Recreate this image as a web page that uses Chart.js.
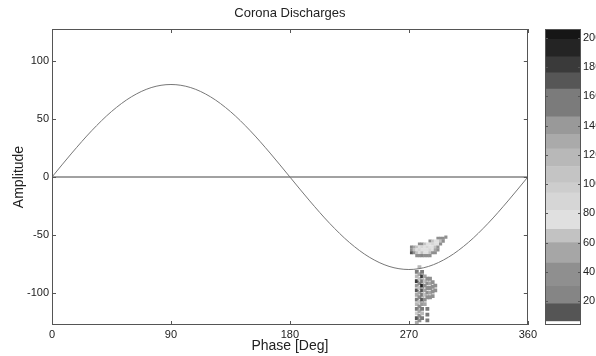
<!DOCTYPE html>
<html>
<head>
<meta charset="utf-8">
<title>Corona Discharges</title>
<script src="https://cdn.jsdelivr.net/npm/chart.js@4.4.0/dist/chart.umd.min.js"></script>
<style>
  html, body { margin: 0; padding: 0; background: #fff; overflow: hidden; }
  #wrap { position: relative; width: 596px; height: 356px; overflow: hidden; }
  #main { position: absolute; left: 0; top: 0; }
  #cbar { position: absolute; left: 540px; top: 0; }
</style>
</head>
<body>
<div id="wrap">
  <canvas id="main" width="540" height="356"></canvas>
  <canvas id="cbar" width="80" height="356"></canvas>
</div>
<script>
// axis ticks
let phaseTicks = [0, 90, 180, 270, 360];
let ampTicks = [-100, -50, 0, 50, 100];
let countTicks = [20, 40, 60, 80, 100, 120, 140, 160, 180, 200];

// reference voltage curve
let sinePhase = [0, 15, 30, 45, 60, 75, 90, 105, 120, 135, 150, 165, 180, 195, 210, 225, 240, 255, 270, 285, 300, 315, 330, 345, 360];
let sineAmp = [0, 20.7, 40, 56.6, 69.3, 77.3, 80, 77.3, 69.3, 56.6, 40, 20.7, 0, -20.7, -40, -56.6, -69.3, -77.3, -80, -77.3, -69.3, -56.6, -40, -20.7, 0];

// colour bar bands (count edges, bottom to top) and their grey levels
let bandEdges = [0, 6, 18, 30, 46, 60, 69, 82, 94, 101, 112, 124, 134, 146, 165, 176, 187, 199, 210];
let bandColors = ['#ffffff', '#555555', '#858585', '#8f8f8f', '#a6a6a6', '#c2c2c2', '#e0e0e0', '#d6d6d6',
  '#cdcdcd', '#c4c4c4', '#b8b8b8', '#aaaaaa', '#999999', '#7b7b7b', '#565656', '#3a3a3a', '#242424', '#161616'];

// discharge cells: [phase, amplitude, count]
let blobPoints = [
  [292, -53, 40], [294, -53, 30], [296, -53, 40], [298, -52, 30],
  [286, -55.5, 40], [288, -55.5, 60], [290, -55.5, 80], [292, -55.5, 80], [294, -55.5, 60], [296, -55.5, 40],
  [278, -58, 30], [280, -58, 40], [282, -58, 60], [284, -58, 70], [286, -58, 80], [288, -58, 90], [290, -58, 80], [292, -58, 70], [294, -58, 40],
  [272, -60.5, 20], [274, -60.5, 50], [276, -60.5, 60], [278, -60.5, 80], [280, -60.5, 90], [282, -60.5, 80], [284, -60.5, 90], [286, -60.5, 80], [288, -60.5, 70], [290, -60.5, 60], [292, -60.5, 40],
  [272, -63, 40], [274, -63, 60], [276, -63, 80], [278, -63, 90], [280, -63, 75], [282, -63, 70], [284, -63, 80], [286, -63, 90], [288, -63, 70], [290, -63, 50], [292, -63, 30],
  [272, -65.5, 15], [274, -65.5, 40], [276, -65.5, 60], [278, -65.5, 70], [280, -65.5, 60], [282, -65.5, 80], [284, -65.5, 70], [286, -65.5, 60], [288, -65.5, 40], [290, -65.5, 30],
  [276, -68, 30], [278, -68, 40], [280, -68, 20], [282, -68, 40], [284, -68, 30], [286, -68, 40]
];
let columnPoints = [
  [278, -78, 120],
  [276, -82, 160], [276, -86, 120], [276, -90, 180], [276, -94, 140], [276, -98, 170], [276, -102, 130], [276, -106, 160], [276, -110, 120], [276, -114, 150], [276, -118, 100], [276, -122, 170], [276, -126, 130],
  [278, -84, 50], [278, -88, 60], [278, -92, 40], [278, -96, 60], [278, -100, 50], [278, -104, 40], [278, -108, 60], [278, -112, 40], [278, -116, 50], [278, -120, 30], [278, -124, 40],
  [280, -82, 150], [280, -86, 180], [280, -90, 160], [280, -94, 190], [280, -98, 170], [280, -102, 150], [280, -106, 170], [280, -110, 140], [280, -114, 160], [280, -118, 120], [280, -122, 150],
  [282, -86, 50], [282, -90, 60], [282, -94, 40], [282, -98, 50], [282, -102, 60], [282, -106, 40], [282, -110, 50],
  [284, -88, 30], [284, -92, 40], [284, -96, 30], [284, -100, 40], [284, -104, 30], [284, -114, 160], [284, -119, 150], [284, -124, 160],
  [286, -88, 40], [286, -92, 50], [286, -96, 40], [286, -100, 50], [286, -104, 40],
  [288, -91, 40], [288, -95, 30], [288, -99, 40], [288, -103, 30],
  [290, -94, 40], [290, -98, 30]
];

function colorFor(count) {
  for (let i = 0; i < bandColors.length; i++) {
    if (count < bandEdges[i + 1]) return bandColors[i];
  }
  return bandColors[bandColors.length - 1];
}

Chart.defaults.font.family = '"Liberation Sans", Arial, sans-serif';
Chart.defaults.color = '#222';

// MATLAB style box with inward tick marks
const boxPlugin = {
  id: 'box',
  afterDatasetsDraw(chart, args, opts) {
    const ctx = chart.ctx;
    const a = chart.chartArea;
    const len = opts.tickLength || 4;
    ctx.save();
    ctx.strokeStyle = opts.color || '#555';
    ctx.lineWidth = 1;
    ctx.strokeRect(Math.round(a.left) + 0.5, Math.round(a.top) + 0.5, Math.round(a.width) - 1, Math.round(a.height) - 1);
    ctx.beginPath();
    const xs = chart.scales.x;
    if (xs && xs.options.display) {
      xs.ticks.forEach(t => {
        const px = Math.round(xs.getPixelForValue(t.value)) + 0.5;
        ctx.moveTo(px, a.bottom); ctx.lineTo(px, a.bottom - len);
        ctx.moveTo(px, a.top); ctx.lineTo(px, a.top + len);
      });
    }
    const ys = chart.scales.y;
    ys.ticks.forEach(t => {
      const py = Math.round(ys.getPixelForValue(t.value)) + 0.5;
      ctx.moveTo(a.left, py); ctx.lineTo(a.left + len, py);
      ctx.moveTo(a.right, py); ctx.lineTo(a.right - len, py);
    });
    ctx.stroke();
    ctx.restore();
  }
};

let blobData = blobPoints.map(p => ({ x: p[0], y: p[1], c: p[2] }));
let columnData = columnPoints.map(p => ({ x: p[0], y: p[1], c: p[2] }));

let mainChart = new Chart(document.getElementById('main').getContext('2d'), {
  type: 'scatter',
  data: {
    datasets: [{
      label: 'Discharges (upper)',
      data: blobData,
      pointStyle: 'rect',
      pointRadius: 2.2,
      pointBorderWidth: 0,
      pointBackgroundColor: blobData.map(d => colorFor(d.c)),
      order: 2
    }, {
      label: 'Discharges (lower)',
      data: columnData,
      pointStyle: 'rect',
      pointRadius: 2.7,
      pointBorderWidth: 0,
      pointBackgroundColor: columnData.map(d => colorFor(d.c)),
      order: 2
    }, {
      label: 'Voltage',
      type: 'line',
      data: sinePhase.map((p, i) => ({ x: p, y: sineAmp[i] })),
      borderColor: '#777',
      borderWidth: 1,
      pointRadius: 0,
      cubicInterpolationMode: 'monotone',
      order: 1
    }, {
      label: 'Zero',
      type: 'line',
      data: [{ x: 0, y: 0 }, { x: 360, y: 0 }],
      borderColor: '#444',
      borderWidth: 1,
      pointRadius: 0,
      order: 1
    }]
  },
  options: {
    responsive: false,
    animation: false,
    layout: { padding: { left: 0, right: 12, top: 0, bottom: 0 } },
    plugins: {
      legend: { display: false },
      tooltip: { enabled: false },
      title: {
        display: true,
        text: 'Corona Discharges',
        fullSize: false,
        color: '#222',
        font: { size: 13, weight: 'normal' },
        padding: { top: 6, bottom: 7.4 }
      },
      box: { color: '#555', tickLength: 4 }
    },
    scales: {
      x: {
        type: 'linear',
        min: 0,
        max: 360,
        afterBuildTicks: s => { s.ticks = phaseTicks.map(v => ({ value: v })); },
        afterFit: s => { s.height = 31; },
        grid: { display: false, drawTicks: false },
        border: { display: false },
        ticks: { font: { size: 11 }, padding: 3, color: '#222', maxRotation: 0 },
        title: { display: true, text: 'Phase [Deg]', font: { size: 14 }, color: '#222', padding: { top: 1, bottom: 1 } }
      },
      y: {
        type: 'linear',
        min: -128,
        max: 128,
        afterBuildTicks: s => { s.ticks = ampTicks.map(v => ({ value: v })); },
        afterFit: s => { s.width = 52; },
        grid: { display: false, drawTicks: false },
        border: { display: false },
        ticks: { font: { size: 11 }, padding: 3, color: '#222' },
        title: { display: true, text: 'Amplitude', font: { size: 14 }, color: '#222', padding: { top: 11, bottom: 11 } }
      }
    }
  },
  plugins: [boxPlugin]
});

// colour bar
let barChart = new Chart(document.getElementById('cbar').getContext('2d'), {
  type: 'bar',
  data: {
    labels: [''],
    datasets: bandColors.map((c, i) => ({
      data: [bandEdges[i + 1] - bandEdges[i]],
      backgroundColor: c,
      borderWidth: 0,
      barPercentage: 1,
      categoryPercentage: 1
    }))
  },
  options: {
    responsive: false,
    animation: false,
    layout: { padding: { left: 5, right: 0, top: 29, bottom: 31 } },
    plugins: {
      legend: { display: false },
      tooltip: { enabled: false },
      box: { color: '#555', tickLength: 3 }
    },
    scales: {
      x: { display: false, stacked: true },
      y: {
        stacked: true,
        position: 'right',
        min: 3.6,
        max: 206,
        afterBuildTicks: s => { s.ticks = countTicks.map(v => ({ value: v })); },
        afterFit: s => { s.width = 39; },
        grid: { display: false, drawTicks: false },
        border: { display: false },
        ticks: { font: { size: 11 }, padding: 2, color: '#222' }
      }
    }
  },
  plugins: [boxPlugin]
});
</script>
</body>
</html>
